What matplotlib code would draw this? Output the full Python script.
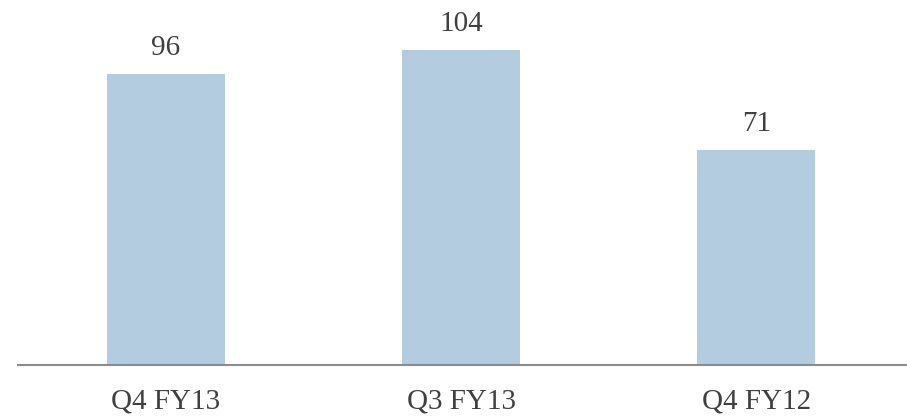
import matplotlib.pyplot as plt

categories = ["Q4 FY13", "Q3 FY13", "Q4 FY12"]
values = [96, 104, 71]

BAR_COLOR = "#b4cce0"
TEXT_COLOR = "#404040"
LINE_COLOR = "#8c8c8c"

plt.rcParams["font.family"] = ["Liberation Serif", "DejaVu Serif"]

fig = plt.figure(figsize=(9.07, 4.2), dpi=100)
ax = fig.add_axes([18 / 907, 55 / 420, 1 - 18 / 907, 365 / 420])

x = list(range(len(categories)))
ax.bar(x, values, width=0.4, color=BAR_COLOR, zorder=2)

for xi, v in zip(x, values):
    ax.text(xi, v + 6.3, str(v), ha="center", va="baseline", fontsize=21, color=TEXT_COLOR)

ax.set_xlim(-0.5, 2.51)
ax.set_ylim(0, 120.5)
ax.set_xticks(x)
ax.set_xticklabels(categories, fontsize=21, color=TEXT_COLOR)
ax.tick_params(axis="x", length=0, pad=17)
ax.set_yticks([])
for side in ["top", "right", "left"]:
    ax.spines[side].set_visible(False)
ax.spines["bottom"].set_color(LINE_COLOR)
ax.spines["bottom"].set_linewidth(1.5)

fig.savefig("out.png", dpi=100)
